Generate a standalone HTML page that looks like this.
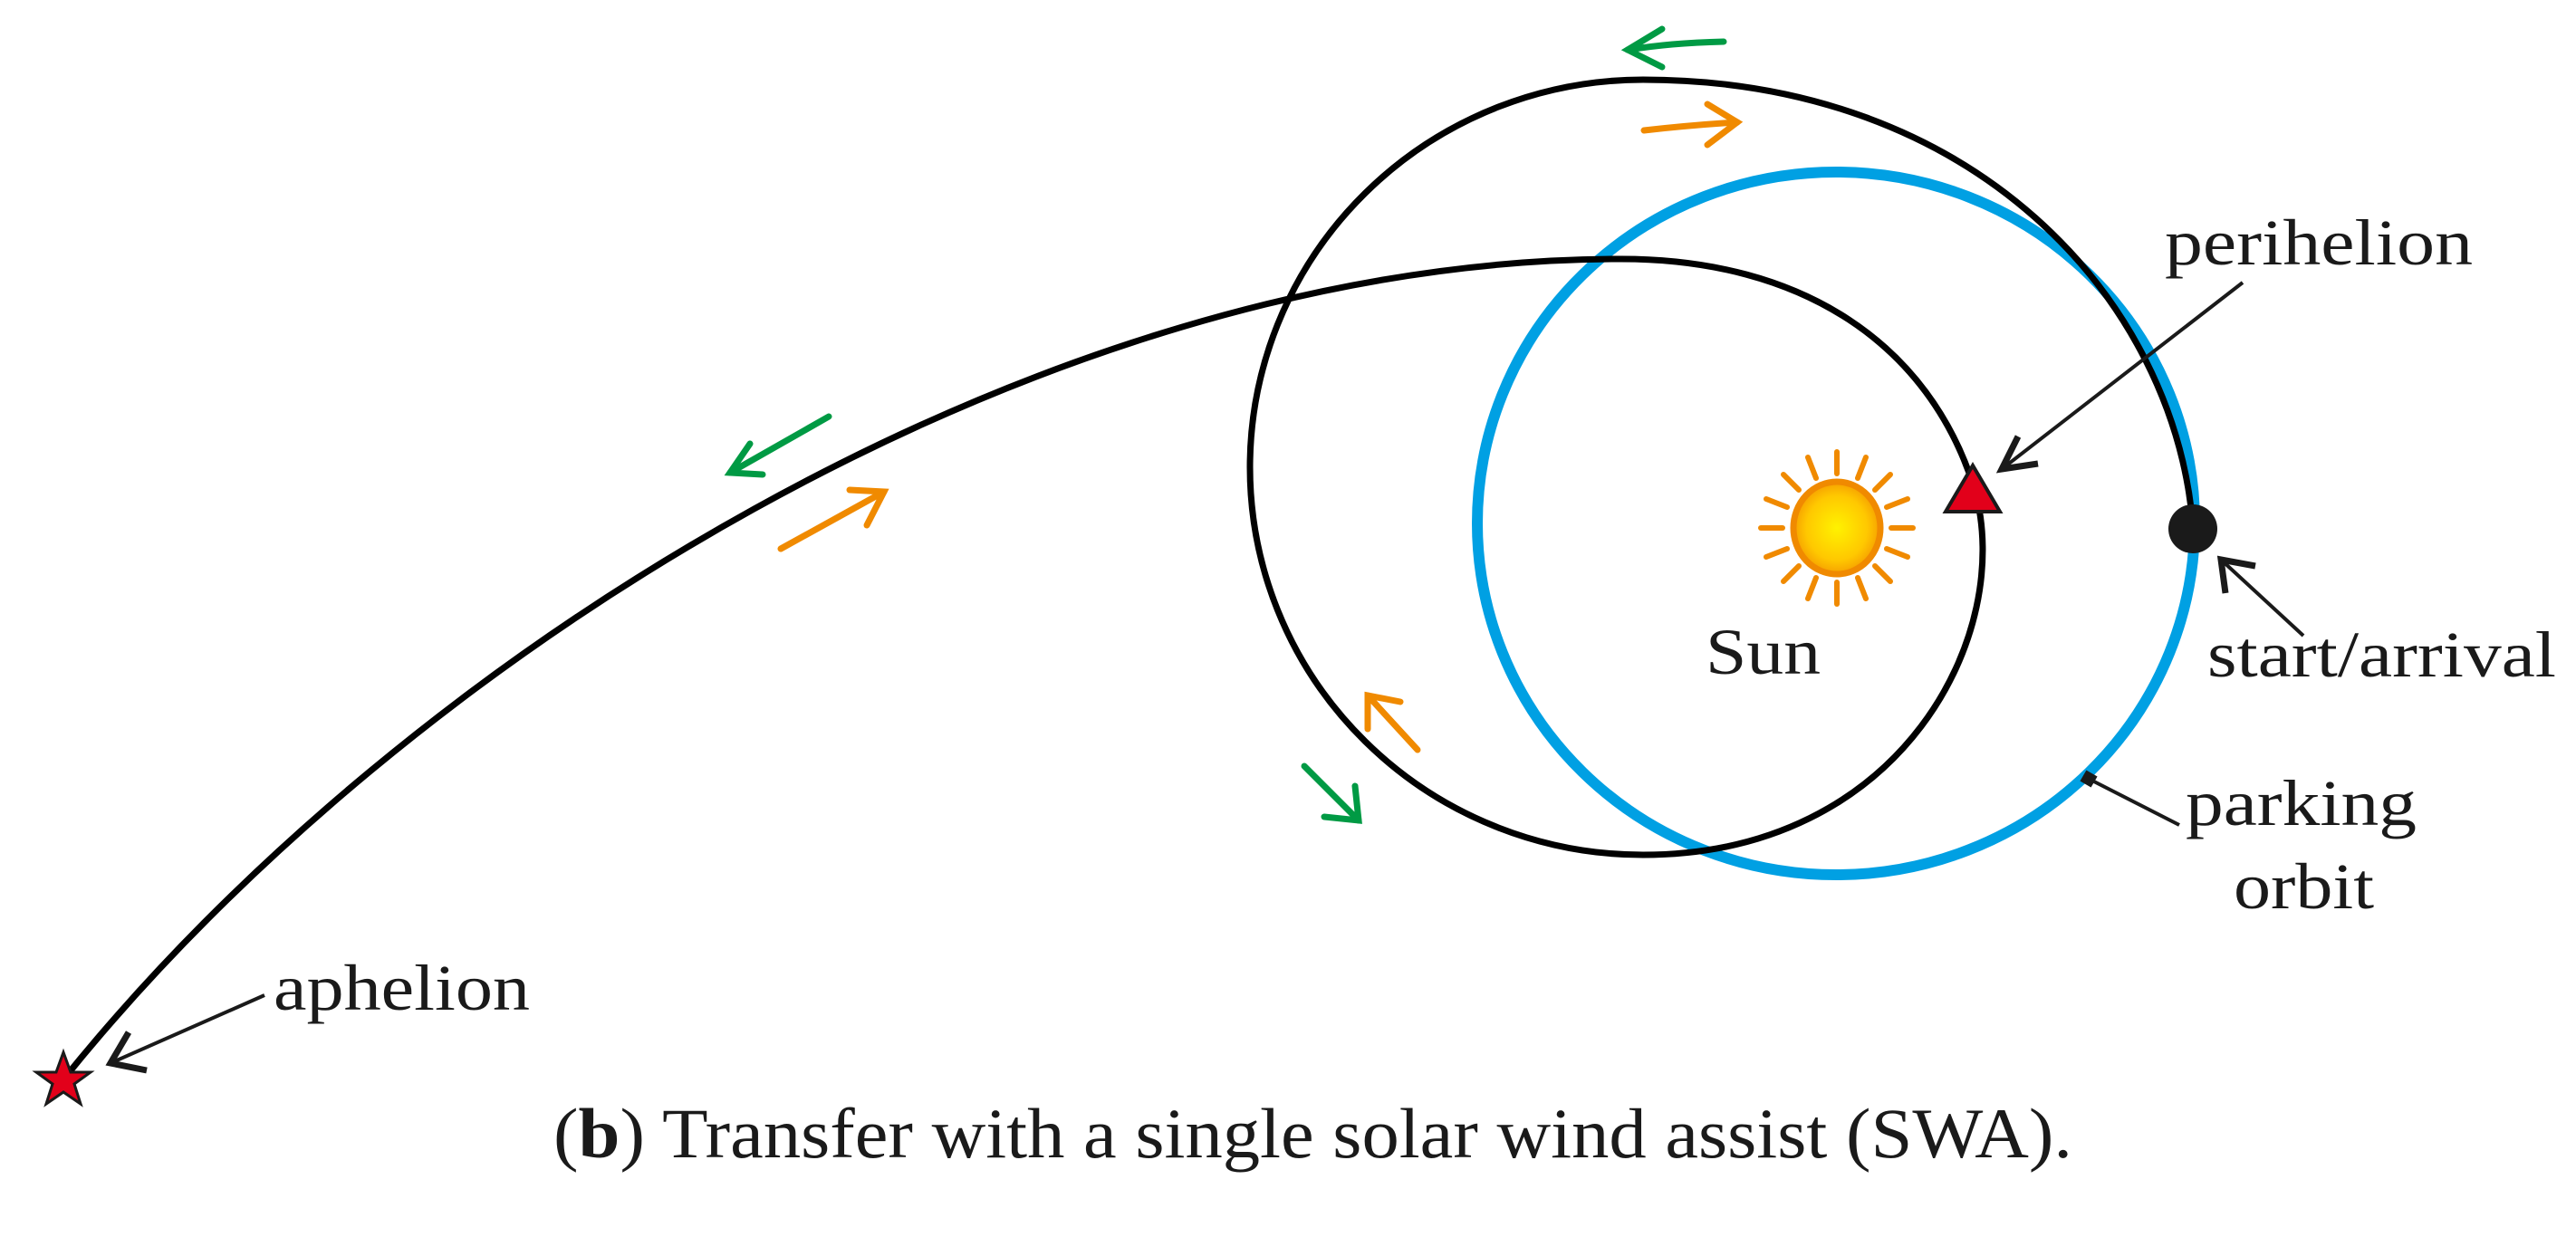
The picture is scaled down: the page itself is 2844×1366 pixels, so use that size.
<!DOCTYPE html>
<html><head><meta charset="utf-8"><style>html,body{margin:0;padding:0;background:#fff;}svg{display:block}</style></head>
<body>
<svg width="2844" height="1366" viewBox="0 0 2844 1366" xmlns="http://www.w3.org/2000/svg">
<defs>
<radialGradient id="sg" cx="50%" cy="50%" r="50%">
<stop offset="0%" stop-color="#fff200"/><stop offset="70%" stop-color="#ffc800"/><stop offset="100%" stop-color="#f6a000"/>
</radialGradient>
</defs>
<!-- parking orbit -->
<ellipse cx="2027" cy="578" rx="396" ry="388" fill="none" stroke="#00a0e3" stroke-width="12"/>
<!-- trajectory -->
<path d="M70,1192 C450,720 1150,286 1790,286 C1990,286 2130,380 2180,540 C2225,700 2100,944 1814,944 A434,428 0 0 1 1814,88 C2180,88 2400,330 2421,580" fill="none" stroke="#000" stroke-width="7"/>
<!-- sun -->
<g transform="translate(2028,583)" stroke="#f08a00" stroke-width="6" stroke-linecap="round">
<line x1="0" y1="-60" x2="0" y2="-84"/><line x1="0" y1="60" x2="0" y2="84"/>
<line x1="-60" y1="0" x2="-84" y2="0"/><line x1="60" y1="0" x2="84" y2="0"/>
<line x1="23" y1="-55" x2="32" y2="-78"/><line x1="-23" y1="-55" x2="-32" y2="-78"/>
<line x1="23" y1="55" x2="32" y2="78"/><line x1="-23" y1="55" x2="-32" y2="78"/>
<line x1="55" y1="-23" x2="78" y2="-32"/><line x1="-55" y1="-23" x2="-78" y2="-32"/>
<line x1="55" y1="23" x2="78" y2="32"/><line x1="-55" y1="23" x2="-78" y2="32"/>
<line x1="42" y1="-42" x2="59" y2="-59"/><line x1="-42" y1="-42" x2="-59" y2="-59"/>
<line x1="42" y1="42" x2="59" y2="59"/><line x1="-42" y1="42" x2="-59" y2="59"/>
<ellipse cx="0" cy="0" rx="48" ry="51" fill="url(#sg)" stroke-width="7"/>
</g>
<!-- perihelion triangle -->
<polygon points="2178,514 2148,565 2208,565" fill="#e2001a" stroke="#1a1a1a" stroke-width="4"/>
<!-- start dot -->
<circle cx="2421" cy="584" r="27" fill="#1a1a1a"/>
<!-- aphelion star -->
<polygon points="70,1162 78,1184 100,1184 82,1197 89,1219 70,1206 51,1219 58,1197 40,1184 62,1184" fill="#e2001a" stroke="#1a1a1a" stroke-width="3"/>
<!-- parking marker -->
<rect x="2299" y="853" width="14" height="14" fill="#1a1a1a" transform="rotate(30 2306 860)"/>
<!-- label arrows -->
<g stroke="#1a1a1a" fill="none" stroke-width="4">
<line x1="2476" y1="312" x2="2210" y2="518"/>
<polyline points="2228,482 2210,518 2250,512" stroke-width="7"/>
<line x1="2543" y1="702" x2="2452" y2="618"/>
<polyline points="2457,655 2452,618 2490,625" stroke-width="7"/>
<line x1="2406" y1="911" x2="2306" y2="860"/>
<line x1="292" y1="1099" x2="122" y2="1174"/>
<polyline points="142,1140 122,1174 162,1182" stroke-width="7"/>
</g>
<!-- direction arrows -->
<g fill="none" stroke-width="7" stroke-linecap="round" stroke-linejoin="miter">
<g stroke="#009a44">
<path d="M1903,46 C1860,47 1830,50 1797,55"/><polyline points="1835,32 1797,55 1835,74"/>
<line x1="1440" y1="846" x2="1500" y2="906"/><polyline points="1462,902 1500,906 1496,868"/>
<line x1="915" y1="460" x2="806" y2="522"/><polyline points="828,490 806,522 842,524"/>
</g>
<g stroke="#f08a00">
<path d="M1815,144 C1850,140 1885,137 1918,135"/><polyline points="1885,115 1918,135 1885,160"/>
<line x1="1565" y1="828" x2="1510" y2="768"/><polyline points="1510,805 1510,768 1546,775"/>
<line x1="862" y1="606" x2="976" y2="543"/><polyline points="938,541 976,543 957,580"/>
</g>
</g>
<!-- labels -->
<g font-family="'Liberation Serif', serif" fill="#1a1a1a" font-size="72">
<text x="2390" y="292" textLength="340" lengthAdjust="spacingAndGlyphs">perihelion</text>
<text x="2437" y="747" textLength="385" lengthAdjust="spacingAndGlyphs">start/arrival</text>
<text x="2413" y="911" textLength="255" lengthAdjust="spacingAndGlyphs">parking</text>
<text x="2466" y="1003" textLength="155" lengthAdjust="spacingAndGlyphs">orbit</text>
<text x="1883" y="744" textLength="127" lengthAdjust="spacingAndGlyphs">Sun</text>
<text x="302" y="1115" textLength="283" lengthAdjust="spacingAndGlyphs">aphelion</text>
<text x="611" y="1278" font-size="78" textLength="1677" lengthAdjust="spacingAndGlyphs">(<tspan font-weight="bold">b</tspan>) Transfer with a single solar wind assist (SWA).</text>
</g>
</svg>
</body></html>
